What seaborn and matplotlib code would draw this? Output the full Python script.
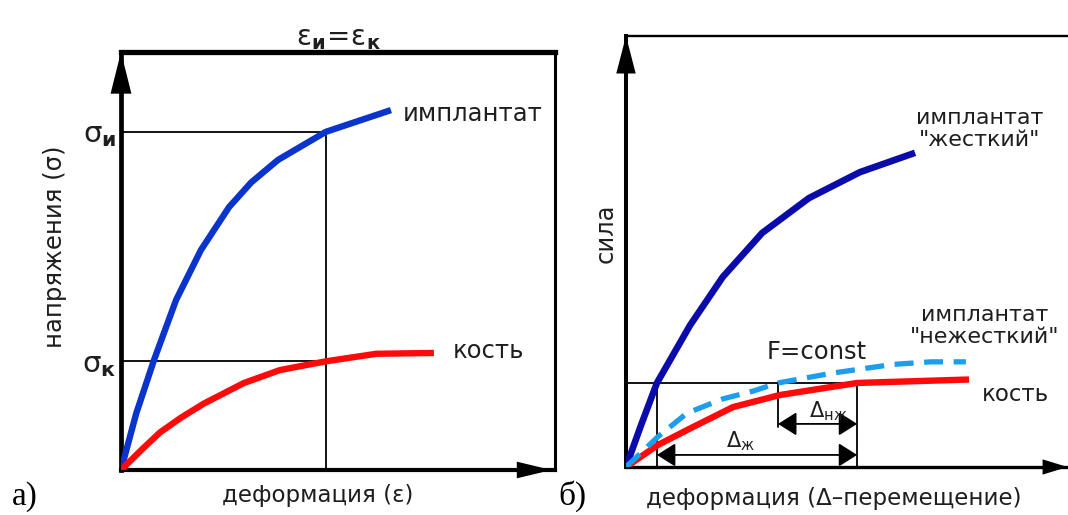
import matplotlib
matplotlib.use("Agg")
import matplotlib.pyplot as plt
import pandas as pd
import seaborn as sns

# ---- panel а): stress vs strain (relative units, 0..100) ----
strain_implant_a = [0, 3.5, 7.6, 12.7, 18.4, 24.9, 30.0, 36.2, 47.2, 62.2]
stress_implant_a = [0, 13.5, 26.3, 40.7, 52.6, 62.9, 68.8, 74.2, 80.9, 86.1]
strain_bone_a = [0, 5.1, 9.0, 13.8, 19.1, 28.3, 36.6, 47.2, 58.8, 72.1]
stress_bone_a = [0, 5.2, 9.0, 12.5, 15.9, 20.8, 23.9, 26.0, 27.8, 28.0]
eps_equal = 47.2          # ε_и = ε_к
sigma_implant = 80.9      # σ_и
sigma_bone = 26.0         # σ_к

# ---- panel б): force vs displacement (relative units, 0..100) ----
disp_rigid = [0, 3.4, 7.0, 14.5, 21.9, 30.8, 41.4, 52.9, 65.4]
force_rigid = [0, 9.7, 19.5, 32.9, 44.1, 54.3, 62.4, 68.4, 72.9]
disp_soft = [0, 7.2, 13.8, 21.9, 28.7, 34.4, 46.8, 60.4, 69.0, 76.9]
force_soft = [0, 7.0, 12.5, 15.8, 17.6, 19.5, 21.8, 23.8, 24.4, 24.4]
disp_bone = [0, 7.2, 15.2, 24.2, 34.8, 52.3, 77.6]
force_bone = [0, 5.1, 9.3, 13.9, 16.7, 19.5, 20.3]
force_const = 19.5
disp_rigid_at_F = 7.0
disp_soft_at_F = 34.4
disp_bone_at_F = 52.3
arrow_level_rigid = 2.8
arrow_level_soft = 10.0
soft_tick_bottom = 9.3

sns.set_style("white")
plt.rcParams["font.family"] = ["DejaVu Sans"]
plt.rcParams["mathtext.fontset"] = "dejavusans"

TXT = "#1e1e1e"
BLUE_A = "#0a34cc"
BLUE_B = "#0b0bab"
RED = "#ff0a0a"
LIGHT = "#1c9ef0"
FS = 17.5

fig = plt.figure(figsize=(10.68, 5.15), dpi=100)
fig.patch.set_facecolor("white")

ax_a = fig.add_axes([121 / 1068, 45 / 515, 434 / 1068, 418 / 515])
ax_b = fig.add_axes([626 / 1068, 48 / 515, 442 / 1068, 431 / 515])

for ax in (ax_a, ax_b):
    ax.set_xlim(0, 100)
    ax.set_ylim(0, 100)
    ax.set_facecolor("white")
    ax.set_xticks([])
    ax.tick_params(axis="y", length=0)


def head(ax, tip, tail, length, width):
    ax.annotate("", xy=tip, xytext=tail, xycoords="axes fraction",
                arrowprops=dict(arrowstyle=f"-|>,head_length={length},head_width={width}",
                                mutation_scale=10, color="black", lw=0,
                                shrinkA=0, shrinkB=0),
                annotation_clip=False)


# ---------------- panel а) ----------------
df_imp_a = pd.DataFrame({"x": strain_implant_a, "y": stress_implant_a})
df_bone_a = pd.DataFrame({"x": strain_bone_a, "y": stress_bone_a})
sns.lineplot(data=df_imp_a, x="x", y="y", ax=ax_a, color=BLUE_A, lw=4.6,
             estimator=None, sort=False, zorder=3, solid_capstyle="butt")
sns.lineplot(data=df_bone_a, x="x", y="y", ax=ax_a, color=RED, lw=4.6,
             estimator=None, sort=False, zorder=3, solid_capstyle="butt")

ax_a.plot([0, eps_equal], [sigma_implant, sigma_implant], color="black", lw=1.3, zorder=2)
ax_a.plot([0, eps_equal], [sigma_bone, sigma_bone], color="black", lw=1.3, zorder=2)
ax_a.plot([eps_equal, eps_equal], [0, sigma_implant], color="black", lw=1.3, zorder=2)

ax_a.spines["left"].set_linewidth(3.4)
ax_a.spines["bottom"].set_linewidth(3.0)
ax_a.spines["top"].set_linewidth(3.8)
ax_a.spines["right"].set_linewidth(2.2)
for s in ax_a.spines.values():
    s.set_color("black")
    s.set_visible(True)
head(ax_a, (0, 1.0), (0, 0.9), 3.0, 0.75)
head(ax_a, (0.992, 0), (0.9, 0), 2.5, 0.6)

ax_a.set_yticks([sigma_bone, sigma_implant])
ax_a.set_yticklabels([r"$\mathrm{σ}_{\mathbf{к}}$", r"$\mathrm{σ}_{\mathbf{и}}$"],
                     fontsize=21, color=TXT)
ax_a.tick_params(axis="y", pad=3)

ax_a.set_title(r"$\mathrm{ε}_{\mathbf{и}}\!=\!\mathrm{ε}_{\mathbf{к}}$",
               fontsize=20, color=TXT, pad=3)
ax_a.set_xlabel("")
ax_a.text(0.454, -0.060, "деформация (ε)", transform=ax_a.transAxes,
          fontsize=16.5, color=TXT, ha="center", va="center")
ax_a.set_ylabel("напряжения (σ)", fontsize=FS, color=TXT)
ax_a.yaxis.set_label_coords(-0.152, 0.533)
ax_a.yaxis.label.set_va("center")

ax_a.text(65.0, 85.2, "имплантат", fontsize=FS, color=TXT, va="center", ha="left")
ax_a.text(76.5, 28.4, "кость", fontsize=FS, color=TXT, va="center", ha="left")

# ---------------- panel б) ----------------
df_rigid = pd.DataFrame({"x": disp_rigid, "y": force_rigid})
df_soft = pd.DataFrame({"x": disp_soft, "y": force_soft})
df_bone_b = pd.DataFrame({"x": disp_bone, "y": force_bone})
sns.lineplot(data=df_rigid, x="x", y="y", ax=ax_b, color=BLUE_B, lw=4.8,
             estimator=None, sort=False, zorder=3, solid_capstyle="butt")
sns.lineplot(data=df_bone_b, x="x", y="y", ax=ax_b, color=RED, lw=4.6,
             estimator=None, sort=False, zorder=3, solid_capstyle="butt")
sns.lineplot(data=df_soft, x="x", y="y", ax=ax_b, color=LIGHT, lw=3.8,
             estimator=None, sort=False, zorder=4, linestyle=(0, (3.6, 2.0)))

ax_b.plot([0, disp_bone_at_F], [force_const, force_const], color="black", lw=1.3, zorder=2)
ax_b.plot([disp_rigid_at_F] * 2, [0, force_const], color="black", lw=1.3, zorder=2)
ax_b.plot([disp_soft_at_F] * 2, [soft_tick_bottom, force_const], color="black", lw=1.3, zorder=2)
ax_b.plot([disp_bone_at_F] * 2, [0, force_const], color="black", lw=1.3, zorder=2)

dim_style = "<|-|>,head_length=0.95,head_width=0.6"
ax_b.annotate("", xy=(disp_bone_at_F, arrow_level_rigid), xytext=(disp_rigid_at_F, arrow_level_rigid),
              arrowprops=dict(arrowstyle=dim_style, mutation_scale=12, color="black",
                              lw=1.3, shrinkA=0, shrinkB=0))
ax_b.annotate("", xy=(disp_bone_at_F, arrow_level_soft), xytext=(disp_soft_at_F, arrow_level_soft),
              arrowprops=dict(arrowstyle=dim_style, mutation_scale=12, color="black",
                              lw=1.3, shrinkA=0, shrinkB=0))
ax_b.text(26.0, 6.0, r"$\mathrm{Δ}_{\mathrm{ж}}$", fontsize=15, color=TXT, ha="center", va="center")
ax_b.text(45.7, 13.0, r"$\mathrm{Δ}_{\mathrm{нж}}$", fontsize=15, color=TXT, ha="center", va="center")

ax_b.spines["left"].set_linewidth(2.9)
ax_b.spines["bottom"].set_linewidth(2.4)
ax_b.spines["top"].set_linewidth(1.7)
ax_b.spines["right"].set_visible(False)
for name in ("left", "bottom", "top"):
    ax_b.spines[name].set_color("black")
    ax_b.spines[name].set_visible(True)
head(ax_b, (0, 1.0), (0, 0.9), 2.7, 0.7)
head(ax_b, (0.999, 0), (0.9, 0), 1.8, 0.55)
ax_b.set_yticks([])

ax_b.set_xlabel("")
ax_b.text(0.469, -0.072, "деформация (Δ–перемещение)", transform=ax_b.transAxes,
          fontsize=16.5, color=TXT, ha="center", va="center")
ax_b.set_ylabel("сила", fontsize=FS, color=TXT)
ax_b.yaxis.set_label_coords(-0.045, 0.543)
ax_b.yaxis.label.set_va("center")

ax_b.text(80.0, 78.4, "имплантат\n\"жесткий\"", fontsize=16, color=TXT,
          ha="center", va="center", multialignment="center", linespacing=1.1)
ax_b.text(81.2, 32.7, "имплантат\n\"нежесткий\"", fontsize=16, color=TXT,
          ha="center", va="center", multialignment="center", linespacing=1.1)
ax_b.text(43.2, 26.7, "F=const", fontsize=FS, color=TXT, ha="center", va="center")
ax_b.text(80.5, 16.9, "кость", fontsize=16.5, color=TXT, ha="left", va="center")

# panel letters
fig.text(12 / 1068, 0.036, "а)", fontsize=24, family="Liberation Serif",
         color="black", ha="left", va="center")
fig.text(558 / 1068, 0.036, "б)", fontsize=24, family="Liberation Serif",
         color="black", ha="left", va="center")

fig.savefig("out.png", dpi=100, facecolor="white")
